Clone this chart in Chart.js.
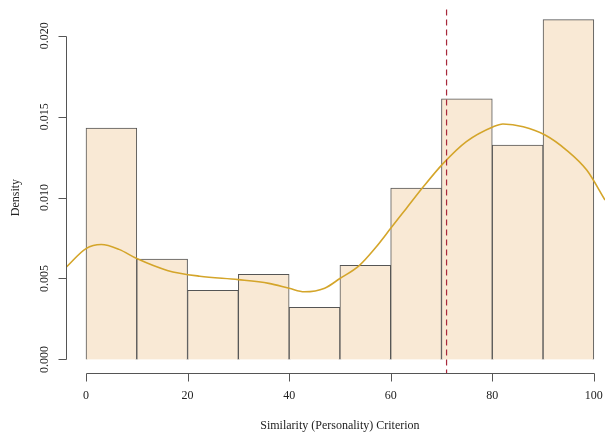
<!DOCTYPE html>
<html>
<head>
<meta charset="utf-8">
<script src="https://cdn.jsdelivr.net/npm/chart.js@4"></script>
<style>
html,body{margin:0;padding:0;background:#fff;}
#c{display:block;}
</style>
</head>
<body>
<canvas id="c" width="605" height="434"></canvas>
<script>
// ---- data ----
const binStarts = [0, 10, 20, 30, 40, 50, 60, 70, 80, 90];
const binWidth = 10;
const densities = [0.0143, 0.0062, 0.00427, 0.00526, 0.00322, 0.00582, 0.01059, 0.0161, 0.01325, 0.021];

const kdeX = [-3.9, 0, 3, 6.5, 10, 16, 22.4, 30, 36, 40, 43, 47, 50, 53.8, 57, 60, 63, 66.5, 70.3, 74.9, 80.2, 82.1, 86.1, 90.4, 94.6, 98.6, 102.2];
const kdeY = [0.0057, 0.00685, 0.0071, 0.0068, 0.00623, 0.0055, 0.00514, 0.00493, 0.0047, 0.0044, 0.00418, 0.0044, 0.0050, 0.0058, 0.0069, 0.0081, 0.0093, 0.0107, 0.0121, 0.01346, 0.01438, 0.01455, 0.01438, 0.01387, 0.01294, 0.0117, 0.00985];

const meanLine = 71;

const xTicks = [0, 20, 40, 60, 80, 100];
const yTicks = [0.000, 0.005, 0.010, 0.015, 0.020];
const xTitle = "Similarity (Personality) Criterion";
const yTitle = "Density";

// ---- chart ----
const FONT = '"Liberation Serif", "DejaVu Serif", serif';

const axesPlugin = {
  id: 'rAxes',
  afterDraw(chart) {
    const ctx = chart.ctx;
    const xs = chart.scales.x, ys = chart.scales.y;
    const area = chart.chartArea;
    ctx.save();
    ctx.strokeStyle = '#555';
    ctx.lineWidth = 1;
    ctx.fillStyle = '#222';
    ctx.font = '12px ' + FONT;
    // y axis
    const yAxisX = Math.round(area.left) + 0.5;
    const y0 = ys.getPixelForValue(yTicks[0]);
    const y1 = ys.getPixelForValue(yTicks[yTicks.length - 1]);
    ctx.beginPath();
    ctx.moveTo(yAxisX, Math.round(y0) + 0.5);
    ctx.lineTo(yAxisX, Math.round(y1) + 0.5);
    yTicks.forEach(v => {
      const p = Math.round(ys.getPixelForValue(v)) + 0.5;
      ctx.moveTo(yAxisX, p);
      ctx.lineTo(yAxisX - 8, p);
    });
    ctx.stroke();
    yTicks.forEach(v => {
      const p = ys.getPixelForValue(v);
      ctx.save();
      ctx.translate(45, p);
      ctx.rotate(-Math.PI / 2);
      ctx.textAlign = 'center';
      ctx.textBaseline = 'middle';
      ctx.fillText(v.toFixed(3), 0, 0);
      ctx.restore();
    });
    // x axis
    const xAxisY = 373.5;
    const xa = Math.round(xs.getPixelForValue(xTicks[0])) + 0.5;
    const xb = Math.round(xs.getPixelForValue(xTicks[xTicks.length - 1])) + 0.5;
    ctx.beginPath();
    ctx.moveTo(xa, xAxisY);
    ctx.lineTo(xb, xAxisY);
    xTicks.forEach(v => {
      const p = Math.round(xs.getPixelForValue(v)) + 0.5;
      ctx.moveTo(p, xAxisY);
      ctx.lineTo(p, xAxisY + 8);
    });
    ctx.stroke();
    ctx.textAlign = 'center';
    ctx.textBaseline = 'middle';
    xTicks.forEach(v => {
      ctx.fillText(String(v), xs.getPixelForValue(v), 396);
    });
    // titles
    ctx.fillText(xTitle, xs.getPixelForValue(50), 426);
    ctx.save();
    ctx.translate(16, ys.getPixelForValue(0.01));
    ctx.rotate(-Math.PI / 2);
    ctx.fillText(yTitle, 0, 0);
    ctx.restore();
    ctx.restore();
  }
};

new Chart(document.getElementById('c'), {
  type: 'bar',
  data: {
    datasets: [
      {
        type: 'line',
        label: 'mean',
        data: [{x: meanLine, y: -0.001}, {x: meanLine, y: 0.022}],
        borderColor: '#A8283A',
        borderWidth: 1.2,
        borderDash: [6, 4],
        pointRadius: 0,
        fill: false,
        order: 0
      },
      {
        type: 'line',
        label: 'density',
        data: kdeX.map((x, i) => ({x: x, y: kdeY[i]})),
        borderColor: '#D4A52A',
        borderWidth: 1.6,
        pointRadius: 0,
        fill: false,
        cubicInterpolationMode: 'monotone',
        order: 1
      },
      {
        type: 'bar',
        label: 'hist',
        data: binStarts.map((s, i) => ({x: s + binWidth / 2, y: densities[i]})),
        backgroundColor: '#F9E9D5',
        borderColor: '#555',
        borderWidth: 1,
        barPercentage: 1,
        categoryPercentage: 1,
        order: 2
      }
    ]
  },
  options: {
    responsive: false,
    animation: false,
    devicePixelRatio: 1,
    layout: { padding: { left: 66, right: 0, top: 6, bottom: 61 } },
    plugins: { legend: { display: false }, tooltip: { enabled: false } },
    scales: {
      x: { type: 'linear', display: false, offset: false, min: -3.94, max: 102.2 },
      y: { type: 'linear', display: false, min: -0.00084, max: 0.02184 }
    }
  },
  plugins: [axesPlugin]
});
</script>
</body>
</html>
